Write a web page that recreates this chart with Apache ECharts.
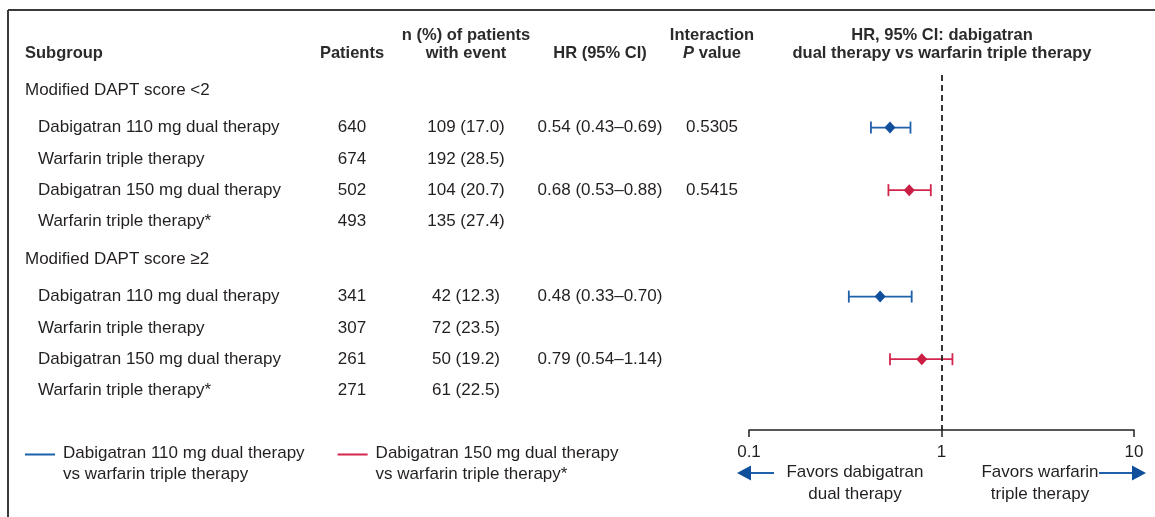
<!DOCTYPE html>
<html>
<head>
<meta charset="utf-8">
<script src="https://cdn.jsdelivr.net/npm/echarts@6/dist/echarts.min.js"></script>
<style>
  html, body { margin: 0; padding: 0; background: #fff; }
  #chart { width: 1155px; height: 517px; }
</style>
</head>
<body>
<div id="chart"></div>
<script>
/* data */
const groups = ['Modified DAPT score <2', 'Modified DAPT score \u22652'];
const arms = ['Dabigatran 110 mg dual therapy', 'Warfarin triple therapy', 'Dabigatran 150 mg dual therapy', 'Warfarin triple therapy*'];
// one entry per row: 4 arms of group <2, then 4 arms of group >=2
const patients = [640, 674, 502, 493, 341, 307, 261, 271];
const eventCount = [109, 192, 104, 135, 42, 72, 50, 61];
const eventPct = [17.0, 28.5, 20.7, 27.4, 12.3, 23.5, 19.2, 22.5];
const hr = [0.54, null, 0.68, null, 0.48, null, 0.79, null];
const hrLow = [0.43, null, 0.53, null, 0.33, null, 0.54, null];
const hrHigh = [0.69, null, 0.88, null, 0.70, null, 1.14, null];
const pInteraction = ['0.5305', '', '0.5415', '', '', '', '', ''];
const xTicks = [0.1, 1, 10];
const legendNames = [
  'Dabigatran 110 mg dual therapy\nvs warfarin triple therapy',
  'Dabigatran 150 mg dual therapy\nvs warfarin triple therapy*'
];

/* layout */
const W = 1155, H = 517;
const PITCH = 31.3, ROW0 = 90;          // px per row, px of first group label
const toRow = px => (px - ROW0) / PITCH;
const rowPos = (g, a) => g * 5.4 + 1.2 + a;
const FONT = 'Liberation Sans, Arial, sans-serif';
const INK = '#231f20';
const BLUE = '#1f60aa', BLUE_DARK = '#0f4f9c';
const RED = '#d3264c', RED_DARK = '#cc1d44';
const col = { group: 25, arm: 38, patients: 352, events: 466, hr: 600, p: 712, forest: 942 };

const fmt = (v, d) => v.toFixed(d);

/* table cells */
const cells = [];
const head1 = toRow(35), head2 = toRow(53);
cells.push({ x: col.group, y: head2, text: 'Subgroup', align: 'left', bold: true });
cells.push({ x: col.patients, y: head2, text: 'Patients', align: 'center', bold: true });
cells.push({ x: col.events, y: head1, text: 'n (%) of patients', align: 'center', bold: true });
cells.push({ x: col.events, y: head2, text: 'with event', align: 'center', bold: true });
cells.push({ x: col.hr, y: head2, text: 'HR (95% CI)', align: 'center', bold: true });
cells.push({ x: col.p, y: head1, text: 'Interaction', align: 'center', bold: true });
cells.push({ x: col.p, y: head2, text: '{i|P} value', align: 'center', bold: true });
cells.push({ x: col.forest, y: head1, text: 'HR, 95% CI: dabigatran', align: 'center', bold: true });
cells.push({ x: col.forest, y: head2, text: 'dual therapy vs warfarin triple therapy', align: 'center', bold: true });

groups.forEach((g, gi) => {
  cells.push({ x: col.group, y: rowPos(gi, -1.2), text: g, align: 'left' });
  arms.forEach((a, ai) => {
    const i = gi * arms.length + ai;
    const y = rowPos(gi, ai);
    cells.push({ x: col.arm, y, text: a, align: 'left' });
    cells.push({ x: col.patients, y, text: String(patients[i]), align: 'center' });
    cells.push({ x: col.events, y, text: eventCount[i] + ' (' + fmt(eventPct[i], 1) + ')', align: 'center' });
    if (hr[i] != null) {
      cells.push({ x: col.hr, y, text: fmt(hr[i], 2) + ' (' + fmt(hrLow[i], 2) + '\u2013' + fmt(hrHigh[i], 2) + ')', align: 'center' });
    }
    if (pInteraction[i]) cells.push({ x: col.p, y, text: pInteraction[i], align: 'center' });
  });
});

function textStyle(bold) {
  return {
    fontFamily: FONT, fontSize: bold ? 16.5 : 17, fontWeight: bold ? 'bold' : 'normal', fill: bold ? '#2b2b2b' : INK
  };
}

/* forest rows for one comparison (arm index 0 = 110 mg, 2 = 150 mg) */
function forestSeries(armIdx, name, color, dark) {
  const data = [];
  hr.forEach((v, i) => {
    if (v != null && i % arms.length === armIdx) {
      data.push([v, rowPos(Math.floor(i / arms.length), armIdx), hrLow[i], hrHigh[i]]);
    }
  });
  return {
    type: 'custom',
    name: name,
    xAxisIndex: 1,
    yAxisIndex: 1,
    itemStyle: { color: color },
    encode: { x: [0, 2, 3], y: 1 },
    data: data,
    silent: true,
    renderItem: (params, api) => {
      const y = api.value(1);
      const c = api.coord([api.value(0), y]);
      const lo = api.coord([api.value(2), y]);
      const hi = api.coord([api.value(3), y]);
      const cap = 6;
      const st = { stroke: color, lineWidth: 1.8 };
      return {
        type: 'group',
        children: [
          { type: 'line', shape: { x1: lo[0], y1: c[1], x2: hi[0], y2: c[1] }, style: st },
          { type: 'line', shape: { x1: lo[0], y1: c[1] - cap, x2: lo[0], y2: c[1] + cap }, style: st },
          { type: 'line', shape: { x1: hi[0], y1: c[1] - cap, x2: hi[0], y2: c[1] + cap }, style: st },
          { type: 'polygon', shape: { points: [[c[0], c[1] - 6], [c[0] + 5.5, c[1]], [c[0], c[1] + 6], [c[0] - 5.5, c[1]]] }, style: { fill: dark } }
        ]
      };
    }
  };
}

const forestTop = 75, forestLeft = 749, forestRight = 1134, axisY = 430;
// legend swatch: 30px line at the top of a 33x22 box so it sits on the first text line
const legendIcon = 'path://M0,0H30V2H0Z M32.99,21H33V21.01H32.99Z';

const chart = echarts.init(document.getElementById('chart'));
const option = {
  animation: false,
  legend: {
    data: legendNames.map(n => ({ name: n, icon: legendIcon })),
    left: 25,
    top: 442.5,
    padding: 0,
    itemWidth: 33,
    itemHeight: 22,
    itemGap: 33,
    selectedMode: false,
    textStyle: { fontFamily: FONT, fontSize: 17, lineHeight: 21.5, color: INK }
  },
  grid: [
    { left: 0, right: 0, top: 0, bottom: 0 },
    { left: forestLeft, right: W - forestRight, top: forestTop, bottom: H - axisY }
  ],
  xAxis: [
    { gridIndex: 0, type: 'value', min: 0, max: W, show: false },
    {
      gridIndex: 1, type: 'log', logBase: 10, min: xTicks[0], max: xTicks[xTicks.length - 1],
      position: 'bottom',
      axisLine: { onZero: false, lineStyle: { color: INK, width: 1.5 } },
      axisTick: { length: 7, lineStyle: { color: INK, width: 1.5 } },
      axisLabel: { color: INK, fontFamily: FONT, fontSize: 17, margin: 14, formatter: v => String(v) },
      splitLine: { show: false }
    }
  ],
  yAxis: [
    { gridIndex: 0, type: 'value', inverse: true, min: toRow(0), max: toRow(H), show: false },
    { gridIndex: 1, type: 'value', inverse: true, min: toRow(forestTop), max: toRow(axisY), show: false }
  ],
  graphic: [
    { type: 'line', shape: { x1: 8, y1: 10, x2: W, y2: 10 }, style: { stroke: '#3a3a3a', lineWidth: 2 } },
    { type: 'line', shape: { x1: 8, y1: 10, x2: 8, y2: H }, style: { stroke: '#3a3a3a', lineWidth: 2 } },
    // favours arrows
    { type: 'line', shape: { x1: 750, y1: 473, x2: 774, y2: 473 }, style: { stroke: BLUE, lineWidth: 2 } },
    { type: 'polygon', shape: { points: [[737, 473], [751, 465.5], [751, 480.5]] }, style: { fill: BLUE_DARK } },
    { type: 'line', shape: { x1: 1099, y1: 473, x2: 1133, y2: 473 }, style: { stroke: BLUE, lineWidth: 2 } },
    { type: 'polygon', shape: { points: [[1146, 473], [1132, 465.5], [1132, 480.5]] }, style: { fill: BLUE_DARK } },
    { type: 'text', x: 855, y: 461, style: { text: 'Favors dabigatran\ndual therapy', align: 'center', lineHeight: 22, fontFamily: FONT, fontSize: 17, fill: INK } },
    { type: 'text', x: 1040, y: 461, style: { text: 'Favors warfarin\ntriple therapy', align: 'center', lineHeight: 22, fontFamily: FONT, fontSize: 17, fill: INK } }
  ],
  series: [
    {
      type: 'custom',
      xAxisIndex: 0,
      yAxisIndex: 0,
      silent: true,
      data: cells.map(c => [c.x, c.y]),
      renderItem: (params, api) => {
        const c = cells[params.dataIndex];
        const p = api.coord([api.value(0), api.value(1)]);
        const st = textStyle(c.bold);
        return {
          type: 'text',
          x: p[0],
          y: p[1],
          style: Object.assign(st, {
            text: c.text,
            align: c.align,
            verticalAlign: 'middle',
            rich: { i: Object.assign(textStyle(c.bold), { fontStyle: 'italic' }) }
          })
        };
      }
    },
    Object.assign(forestSeries(0, legendNames[0], BLUE, BLUE_DARK), {
      markLine: {
        silent: true,
        symbol: 'none',
        label: { show: false },
        lineStyle: { color: INK, type: [6, 4], width: 1.8 },
        data: [{ xAxis: 1 }]
      }
    }),
    forestSeries(2, legendNames[1], RED, RED_DARK)
  ]
};
chart.setOption(option);
</script>
</body>
</html>
